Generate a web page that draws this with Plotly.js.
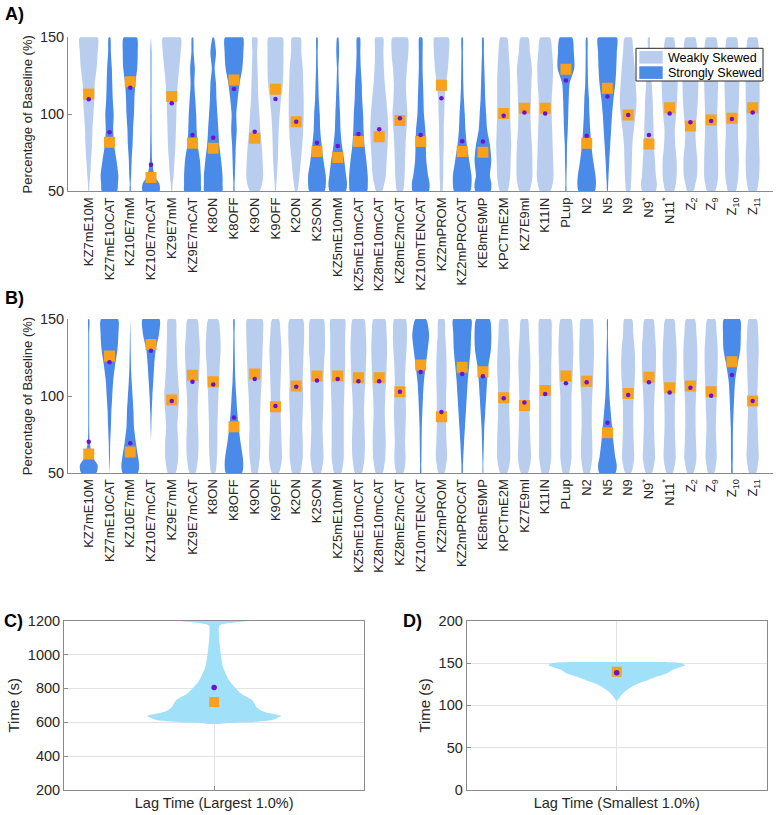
<!DOCTYPE html>
<html>
<head>
<meta charset="utf-8">
<script src="https://cdn.plot.ly/plotly-3.0.1.min.js"></script>
<style>html,body{margin:0;padding:0;background:#fff;}#chart{width:777px;height:815px;}</style>
</head>
<body>
<div id="chart"></div>
<script>
// ---------- Data ----------
const categories = ["KZ7mE10M","KZ7mE10CAT","KZ10E7mM","KZ10E7mCAT","KZ9E7mM","KZ9E7mCAT","K8ON","K8OFF","K9ON","K9OFF","K2ON","K2SON","KZ5mE10mM","KZ5mE10mCAT","KZ8mE10mCAT","KZ8mE2mCAT","KZ10mTENCAT","KZ2mPROM","KZ2mPROCAT","KE8mE9MP","KPCTmE2M","KZ7E9ml","K11IN","PLup","N2","N5","N9","N9<sup>*</sup>","N11<sup>*</sup>","Z<sub>2</sub>","Z<sub>9</sub>","Z<sub>10</sub>","Z<sub>11</sub>"];

// density levels (percentage of baseline) at which relative violin widths are read
const levels = [50,55,60,70,80,90,100,110,120,130,140,150];

const legendNames = ["Weakly Skewed", "Strongly Skewed"];

// Panel A
const skewA = ["W","S","S","S","W","S","S","S","W","W","W","S","S","S","W","W","S","W","S","S","W","W","W","S","S","S","W","W","W","W","W","W","W"];
const densA = [
 [0.03,0.08,0.15,0.25,0.35,0.4,0.5,0.6,0.65,0.85,0.95,0.95],
 [0.8,0.9,0.95,0.75,0.5,0.4,0.45,0.35,0.3,0.25,0.15,0.08],
 [0.05,0.05,0.1,0.15,0.25,0.3,0.4,0.45,0.55,0.75,0.8,0.7],
 [0.9,0.9,0.4,0.12,0.08,0.06,0.06,0.05,0.05,0.05,0.05,0],
 [0.03,0.1,0.2,0.3,0.4,0.45,0.5,0.55,0.65,0.8,0.95,0.95],
 [0.85,0.9,0.9,0.8,0.55,0.45,0.4,0.3,0.2,0.25,0.12,0.06],
 [0.95,1.0,1.0,0.85,0.65,0.55,0.45,0.35,0.3,0.15,0.3,0.06],
 [0.05,0.06,0.1,0.15,0.2,0.3,0.25,0.4,0.6,0.9,1.0,0.95],
 [0.5,0.8,0.9,0.85,0.75,0.6,0.5,0.4,0.35,0.3,0.25,0.25],
 [0.03,0.1,0.15,0.25,0.3,0.35,0.45,0.6,0.8,0.85,0.85,0.75],
 [0.1,0.25,0.35,0.5,0.65,0.75,0.8,0.8,0.75,0.7,0.55,0.45],
 [0.8,0.95,0.95,0.7,0.5,0.35,0.3,0.2,0.15,0.1,0.08,0.06],
 [0.85,1.0,0.9,0.7,0.45,0.3,0.25,0.18,0.12,0.08,0.15,0.06],
 [0.9,1.0,1.0,0.85,0.65,0.55,0.5,0.4,0.35,0.25,0.2,0.15],
 [0.3,0.55,0.7,0.8,0.9,0.95,0.9,0.75,0.6,0.5,0.45,0.4],
 [0.3,0.45,0.5,0.55,0.6,0.7,0.8,0.7,0.65,0.75,0.9,0.8],
 [0.85,0.95,0.8,0.6,0.55,0.5,0.35,0.3,0.25,0.2,0.2,0.15],
 [0.1,0.15,0.2,0.2,0.25,0.25,0.3,0.35,0.5,0.7,0.8,0.75],
 [0.85,1.0,1.0,0.75,0.5,0.35,0.28,0.18,0.12,0.1,0.08,0.06],
 [0.8,0.9,0.75,0.9,0.75,0.45,0.35,0.25,0.2,0.15,0.1,0.06],
 [0.4,0.6,0.7,0.75,0.8,0.75,0.7,0.7,0.7,0.65,0.55,0.35],
 [0.5,0.75,0.85,0.85,0.8,0.7,0.65,0.7,0.75,0.8,0.6,0.4],
 [0.55,0.8,0.9,0.85,0.8,0.75,0.7,0.7,0.8,0.85,0.75,0.5],
 [0.05,0.05,0.06,0.1,0.12,0.2,0.25,0.3,0.4,0.9,0.85,0.65],
 [0.85,1.0,0.95,0.7,0.5,0.38,0.3,0.25,0.15,0.12,0.1,0.06],
 [0.03,0.08,0.12,0.2,0.3,0.4,0.5,0.65,0.85,0.95,1.0,1.0],
 [0.2,0.3,0.35,0.4,0.45,0.6,0.8,0.9,0.8,0.7,0.55,0.35],
 [0.7,0.85,0.75,0.65,0.55,0.5,0.45,0.4,0.3,0.18,0.1,0.08],
 [0.45,0.65,0.75,0.75,0.6,0.55,0.7,0.8,0.85,0.8,0.65,0.4],
 [0.3,0.55,0.7,0.75,0.6,0.55,0.7,0.8,0.85,0.85,0.75,0.5],
 [0.4,0.65,0.75,0.75,0.7,0.65,0.65,0.7,0.75,0.8,0.75,0.5],
 [0.4,0.6,0.7,0.75,0.7,0.65,0.7,0.75,0.8,0.8,0.7,0.5],
 [0.4,0.6,0.7,0.75,0.7,0.65,0.7,0.75,0.75,0.8,0.7,0.45]
];
const meanA = [113.2,81.8,121.2,58.9,111.5,81.2,77.9,122.3,84.4,116.2,95.2,75.8,71.9,82.3,85.5,95.9,82.3,118.8,75.8,75.3,100.6,103.9,103.9,129.2,81.2,116.9,99.6,80.7,104.3,92.4,96.3,97.4,104.3];
const medianA = [109.7,88.3,117.3,67.3,107.1,86.6,84.8,116.5,88.7,110,95.2,81.6,79.4,87.2,90.3,97.4,86.6,110.4,82.5,82.3,99.1,101.1,100.6,121.9,86.1,111.5,99.6,86.6,100.6,94.8,95.6,97,101.1];

// Panel B
const skewB = ["S","S","S","S","W","W","W","S","W","W","W","W","W","W","W","W","S","W","S","S","W","W","W","W","W","S","W","W","W","W","W","S","W"];
const densB = [
 [0.8,0.95,0.45,0.1,0.05,0.05,0.05,0.05,0.05,0.05,0.05,0.05],
 [0,0.03,0.05,0.08,0.15,0.2,0.3,0.4,0.6,0.85,0.95,0.9],
 [0.8,0.95,0.85,0.6,0.4,0.35,0.25,0.15,0.08,0.05,0.03,0],
 [0,0,0,0,0.04,0.08,0.15,0.25,0.35,0.5,0.85,0.9],
 [0.4,0.6,0.7,0.7,0.6,0.7,0.8,0.7,0.6,0.55,0.5,0.4],
 [0.3,0.5,0.6,0.65,0.6,0.55,0.6,0.7,0.75,0.8,0.7,0.5],
 [0.2,0.35,0.4,0.45,0.45,0.5,0.55,0.65,0.7,0.8,0.75,0.5],
 [0.85,1.0,0.95,0.7,0.5,0.35,0.25,0.15,0.1,0.08,0.06,0.05],
 [0.3,0.45,0.55,0.6,0.55,0.6,0.65,0.75,0.8,0.85,0.9,0.8],
 [0.35,0.6,0.7,0.65,0.6,0.55,0.5,0.55,0.6,0.65,0.55,0.35],
 [0.4,0.6,0.7,0.7,0.65,0.7,0.75,0.7,0.75,0.8,0.85,0.7],
 [0.4,0.6,0.7,0.65,0.6,0.65,0.7,0.7,0.75,0.85,0.85,0.7],
 [0.35,0.55,0.65,0.65,0.65,0.65,0.7,0.75,0.8,0.8,0.8,0.75],
 [0.35,0.55,0.65,0.7,0.65,0.6,0.65,0.75,0.8,0.85,0.8,0.6],
 [0.35,0.55,0.65,0.7,0.65,0.6,0.65,0.75,0.8,0.85,0.8,0.6],
 [0.35,0.55,0.6,0.55,0.6,0.65,0.6,0.55,0.6,0.7,0.75,0.6],
 [0.05,0.06,0.08,0.1,0.12,0.18,0.25,0.35,0.55,0.75,0.9,0.55],
 [0.3,0.5,0.6,0.55,0.5,0.5,0.5,0.55,0.55,0.5,0.4,0.3],
 [0.05,0.08,0.12,0.2,0.3,0.4,0.5,0.6,0.75,0.9,0.95,0.95],
 [0.03,0.04,0.06,0.1,0.15,0.25,0.35,0.45,0.6,0.85,0.9,0.7],
 [0.35,0.6,0.7,0.7,0.65,0.6,0.6,0.65,0.7,0.65,0.55,0.4],
 [0.35,0.6,0.7,0.65,0.6,0.55,0.55,0.6,0.65,0.6,0.5,0.35],
 [0.35,0.55,0.65,0.65,0.65,0.65,0.65,0.65,0.65,0.7,0.7,0.6],
 [0.3,0.5,0.6,0.6,0.6,0.6,0.6,0.7,0.75,0.8,0.75,0.55],
 [0.3,0.5,0.6,0.6,0.55,0.55,0.6,0.7,0.75,0.8,0.75,0.6],
 [0.85,1.0,0.85,0.65,0.5,0.35,0.22,0.15,0.12,0.08,0.05,0.03],
 [0.3,0.55,0.65,0.6,0.55,0.55,0.6,0.7,0.75,0.7,0.55,0.4],
 [0.3,0.55,0.65,0.6,0.55,0.55,0.6,0.7,0.75,0.75,0.65,0.45],
 [0.3,0.55,0.65,0.6,0.55,0.55,0.6,0.7,0.75,0.75,0.65,0.45],
 [0.3,0.55,0.65,0.6,0.55,0.55,0.6,0.7,0.75,0.75,0.65,0.45],
 [0.3,0.5,0.6,0.55,0.5,0.55,0.6,0.65,0.7,0.7,0.6,0.4],
 [0.06,0.08,0.1,0.1,0.12,0.18,0.25,0.35,0.6,0.9,0.95,0.85],
 [0.35,0.55,0.65,0.6,0.55,0.5,0.5,0.55,0.6,0.65,0.6,0.4]
];
const meanB = [62.3,126,63.6,133.5,97.4,113.4,109.3,80.1,114.3,93.1,106.5,113,113,111.9,111.9,102.8,120.1,86.6,118.6,115.8,98.9,93.9,103.5,113,109.5,76.2,101.7,112.1,105.4,106.5,102.8,122.3,96.8];
const medianB = [70.3,121.9,69.3,129.4,96.8,109.3,107.4,86.1,111,93.5,106,110,111,109.5,109.5,102.8,115.6,89.6,114.3,112.8,98.5,95.7,101.3,108.2,108.9,82.7,100.6,108.9,102.2,105.4,100.2,113.6,96.8];

// Panel C (lag time, largest 1.0%)
const lagLargeLevels = [590,595,605,615,625,637,650,665,690,730,770,810,850,930,1030,1125,1170,1182,1190,1200];
const lagLargeDens   = [0.04,0.18,0.67,0.88,0.94,1.0,0.87,0.72,0.63,0.57,0.4,0.3,0.22,0.13,0.09,0.07,0.075,0.15,0.3,0.55];
const lagLargeMean = 720, lagLargeMedian = 805;
const lagLargeLabel = "Lag Time (Largest 1.0%)";

// Panel D (lag time, smallest 1.0%)
const lagSmallLevels = [106,110,115,120,125,130,134,138,142,145,147,149,150.5,151];
const lagSmallDens   = [0.01,0.045,0.1,0.18,0.29,0.46,0.59,0.74,0.82,0.93,1.0,0.97,0.88,0];
const lagSmallMean = 139.8, lagSmallMedian = 138.6;
const lagSmallLabel = "Lag Time (Smallest 1.0%)";

// ---------- Styling ----------
const WEAK = "#b9cdee", STRONG = "#4a8ae9", CYAN = "#a0e0f8", ORANGE = "#f7a11c", PURPLE = "#7010d0";
const FONT = "Liberation Sans, Arial, sans-serif";
const TXT = "#262626";
const AX = "#8a8a8a";

function violin(center, lv, dens, scale, color, xa, ya) {
  const xs = [], ys = [];
  for (let i = 0; i < lv.length; i++) { xs.push(center + dens[i] * scale); ys.push(lv[i]); }
  for (let i = lv.length - 1; i >= 0; i--) { xs.push(center - dens[i] * scale); ys.push(lv[i]); }
  xs.push(xs[0]); ys.push(ys[0]);
  return {type: "scatter", mode: "lines", x: xs, y: ys, fill: "toself", fillcolor: color,
          line: {width: 0, color: color, shape: "spline", smoothing: 0.7}, xaxis: xa, yaxis: ya,
          showlegend: false, hoverinfo: "skip"};
}

const traces = [];
const idx = categories.map((c, i) => i + 1);
const SC = 0.45;
function panel(dens, skew, means, meds, xa, ya) {
  dens.forEach((d, i) => {
    traces.push(violin(idx[i], levels, d, SC, skew[i] === "W" ? WEAK : STRONG, xa, ya));
  });
  traces.push({type: "scatter", mode: "markers", x: idx, y: means, xaxis: xa, yaxis: ya, showlegend: false,
    marker: {symbol: "square", size: 11, color: ORANGE}, hoverinfo: "skip"});
  traces.push({type: "scatter", mode: "markers", x: idx, y: meds, xaxis: xa, yaxis: ya, showlegend: false,
    marker: {symbol: "circle", size: 4.5, color: PURPLE}, hoverinfo: "skip"});
}
panel(densA, skewA, meanA, medianA, "x", "y");
panel(densB, skewB, meanB, medianB, "x2", "y2");

traces.push(violin(1, lagLargeLevels, lagLargeDens, 0.223, CYAN, "x3", "y3"));
traces.push({type: "scatter", mode: "markers", x: [1], y: [lagLargeMean], xaxis: "x3", yaxis: "y3", showlegend: false,
  marker: {symbol: "square", size: 10, color: ORANGE}, hoverinfo: "skip"});
traces.push({type: "scatter", mode: "markers", x: [1], y: [lagLargeMedian], xaxis: "x3", yaxis: "y3", showlegend: false,
  marker: {symbol: "circle", size: 5.5, color: PURPLE}, hoverinfo: "skip"});

traces.push(violin(1, lagSmallLevels, lagSmallDens, 0.227, CYAN, "x4", "y4"));
traces.push({type: "scatter", mode: "markers", x: [1], y: [lagSmallMean], xaxis: "x4", yaxis: "y4", showlegend: false,
  marker: {symbol: "square", size: 10, color: ORANGE}, hoverinfo: "skip"});
traces.push({type: "scatter", mode: "markers", x: [1], y: [lagSmallMedian], xaxis: "x4", yaxis: "y4", showlegend: false,
  marker: {symbol: "circle", size: 5.5, color: PURPLE}, hoverinfo: "skip"});

const W = 777, H = 815;
const px = v => v / W, py = v => 1 - v / H;

function catX(dom) {
  return {domain: dom, range: [0, 34], tickvals: idx, ticktext: categories, tickangle: -90,
    tickfont: {family: FONT, size: 13, color: TXT}, showline: true, linecolor: AX, linewidth: 1,
    ticks: "", showgrid: false, zeroline: false, fixedrange: true};
}
function pctY(dom, anchor) {
  return {domain: dom, range: [50, 150], tickvals: [50, 100, 150], anchor: anchor,
    tickfont: {family: FONT, size: 14.5, color: TXT}, showline: true, linecolor: AX, linewidth: 1,
    ticks: "inside", ticklen: 4, tickcolor: AX, showgrid: false, zeroline: false,
    title: {text: "Percentage of Baseline (%)", font: {family: FONT, size: 13, color: TXT}, standoff: 4}};
}
function boxX(dom, label, anchor) {
  return {domain: dom, range: [0.5, 1.5], tickvals: [1], ticktext: [label], anchor: anchor,
    tickfont: {family: FONT, size: 14.5, color: TXT}, showline: true, mirror: true, linecolor: AX,
    ticks: "inside", ticklen: 4, tickcolor: AX, showgrid: true, gridcolor: "#e3e3e3", zeroline: false};
}
function boxY(dom, range, dt, anchor) {
  return {domain: dom, range: range, dtick: dt, anchor: anchor,
    tickfont: {family: FONT, size: 14.5, color: TXT}, showline: true, mirror: true, linecolor: AX,
    ticks: "inside", ticklen: 4, tickcolor: AX, showgrid: true, gridcolor: "#e3e3e3", zeroline: false,
    title: {text: "Time (s)", font: {family: FONT, size: 15, color: TXT}, standoff: 4}};
}

// legend drawn inside panel A (box, swatches, labels)
const legendColors = [WEAK, STRONG];
const shapes = [
  {type: "rect", xref: "paper", yref: "paper", x0: px(636), x1: px(763), y0: py(81), y1: py(48.3),
   fillcolor: "#fff", line: {color: "#262626", width: 1}, layer: "above"}
];
const legendAnn = [];
legendNames.forEach((n, i) => {
  const top = 51 + i * 15.3;
  shapes.push({type: "rect", xref: "paper", yref: "paper", x0: px(639.3), x1: px(662.7), y0: py(top + 12.6), y1: py(top),
    fillcolor: legendColors[i], line: {width: 0}, layer: "above"});
  legendAnn.push({text: n, x: px(665.5), y: py(top + 6.5), xref: "paper", yref: "paper", xanchor: "left", yanchor: "middle",
    showarrow: false, font: {family: FONT, size: 12.5, color: "#000"}});
});

const layout = {
  width: W, height: H, margin: {l: 0, r: 0, t: 0, b: 0},
  paper_bgcolor: "#fff", plot_bgcolor: "#fff",
  font: {family: FONT, color: TXT},
  showlegend: false,
  xaxis: Object.assign(catX([px(68), px(773.4)]), {anchor: "y"}),
  yaxis: pctY([py(191.3), py(37.3)], "x"),
  xaxis2: Object.assign(catX([px(68), px(773.4)]), {anchor: "y2"}),
  yaxis2: pctY([py(473), py(319)], "x2"),
  xaxis3: boxX([px(64), px(364.3)], lagLargeLabel, "y3"),
  yaxis3: boxY([py(790), py(620.7)], [200, 1200], 200, "x3"),
  xaxis4: boxX([px(466.7), px(766.7)], lagSmallLabel, "y4"),
  yaxis4: boxY([py(790), py(620.7)], [0, 200], 50, "x4"),
  shapes: shapes,
  annotations: [
    {text: "<b>A)</b>", x: px(3), y: py(14), xref: "paper", yref: "paper", xanchor: "left", yanchor: "middle", showarrow: false, font: {family: FONT, size: 18, color: "#000"}},
    {text: "<b>B)</b>", x: px(3), y: py(298), xref: "paper", yref: "paper", xanchor: "left", yanchor: "middle", showarrow: false, font: {family: FONT, size: 18, color: "#000"}},
    {text: "<b>C)</b>", x: px(2), y: py(621), xref: "paper", yref: "paper", xanchor: "left", yanchor: "middle", showarrow: false, font: {family: FONT, size: 18, color: "#000"}},
    {text: "<b>D)</b>", x: px(401), y: py(621), xref: "paper", yref: "paper", xanchor: "left", yanchor: "middle", showarrow: false, font: {family: FONT, size: 18, color: "#000"}}
  ].concat(legendAnn)
};

Plotly.newPlot("chart", traces, layout, {displayModeBar: false, staticPlot: true});
</script>
</body>
</html>
